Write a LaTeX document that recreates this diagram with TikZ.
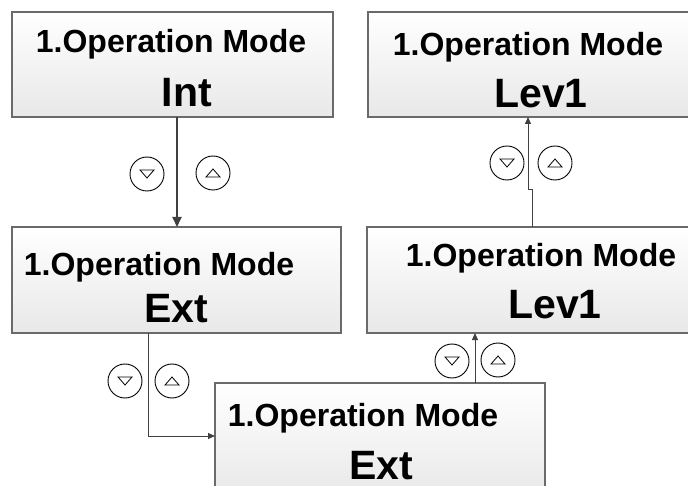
\documentclass[tikz,border=0pt]{standalone}
\usepackage{fontspec}
\setmainfont{Liberation Sans}
\usetikzlibrary{arrows.meta}
\definecolor{linegray}{HTML}{404040}
\definecolor{boxborder}{HTML}{6A6A6A}
\tikzset{
  box/.style={draw=boxborder, line width=1.1pt, top color=white, bottom color=black!9,
    inner sep=0pt, outer sep=0pt, anchor=north west},
  tline/.style={anchor=base, inner sep=0pt, font=\bfseries\fontsize{32}{32}\selectfont},
  vline/.style={anchor=base, inner sep=0pt, font=\bfseries\fontsize{41}{41}\selectfont},
  btn/.style={circle, draw=black, fill=white, line width=0.9pt, minimum size=34pt, inner sep=0pt},
  tri/.style={draw=black, line width=0.8pt, line join=miter},
  arrthick/.style={draw=linegray, line width=2pt, -{Triangle[length=10pt,width=9pt]}},
  arrthin/.style={draw=linegray, line width=1pt, -{Triangle[length=7pt,width=6pt]}}
}
\begin{document}
\begin{tikzpicture}[x=1pt,y=-1pt]
\useasboundingbox (0,0) rectangle (688,486);
\clip (0,0) rectangle (688,486);
\fill[white] (0,0) rectangle (688,486);

% boxes
\node[box, minimum width=321pt, minimum height=105pt] (b1) at (12,12) {};
\node[box, minimum width=330pt, minimum height=105pt] (b2) at (368,12) {};
\node[box, minimum width=329pt, minimum height=106pt] (b3) at (12,227) {};
\node[box, minimum width=330pt, minimum height=106pt] (b4) at (367,227) {};
\node[box, minimum width=330pt, minimum height=115pt] (b5) at (215,383) {};

% texts
\node[tline] (t1a) at (171,53) {1.Operation Mode};
\node[vline] (t1b) at (187,107) {Int};
\node[tline] (t2a) at (528,56) {1.Operation Mode};
\node[vline] (t2b) at (541,108) {Lev1};
\node[tline] (t3a) at (159,276) {1.Operation Mode};
\node[vline] (t3b) at (176,323) {Ext};
\node[tline] (t4a) at (541,267) {1.Operation Mode};
\node[vline] (t4b) at (555,319) {Lev1};
\node[tline] (t5a) at (363,426) {1.Operation Mode};
\node[vline] (t5b) at (381,479) {Ext};

% buttons
\node[btn] (d1) at (147,174) {};
\node[btn] (u1) at (213,173) {};
\node[btn] (d2) at (125,381) {};
\node[btn] (u2) at (172,381) {};
\node[btn] (d3) at (452,361) {};
\node[btn] (u3) at (498,360) {};
\node[btn] (d4) at (507,163) {};
\node[btn] (u4) at (555,163) {};
\foreach \n in {d1,d2,d3,d4}
  \draw[tri] ([shift={(-7,-4)}]\n.center) -- ([shift={(7,-4)}]\n.center) -- ([shift={(0,4)}]\n.center) -- cycle;
\foreach \n in {u1,u2,u3,u4}
  \draw[tri] ([shift={(-7,4)}]\n.center) -- ([shift={(7,4)}]\n.center) -- ([shift={(0,-4)}]\n.center) -- cycle;

% connector helpers
\coordinate (x1) at (177,0);
\coordinate (c2) at (148,436);
\coordinate (x3) at (475,0);
\coordinate (j1) at (532,190);
\coordinate (j2) at (528,190);

% connectors
\draw[arrthick] (b1.south -| x1) -- (b3.north -| x1);
\draw[arrthin] (b3.south -| c2) -- (c2) -- (c2 -| b5.west);
\draw[arrthin] (b5.north -| x3) -- (b4.south -| x3);
\draw[arrthin] (b4.north -| j1) -- (j1) -- (j2) -- (b2.south -| j2);
\end{tikzpicture}
\end{document}
